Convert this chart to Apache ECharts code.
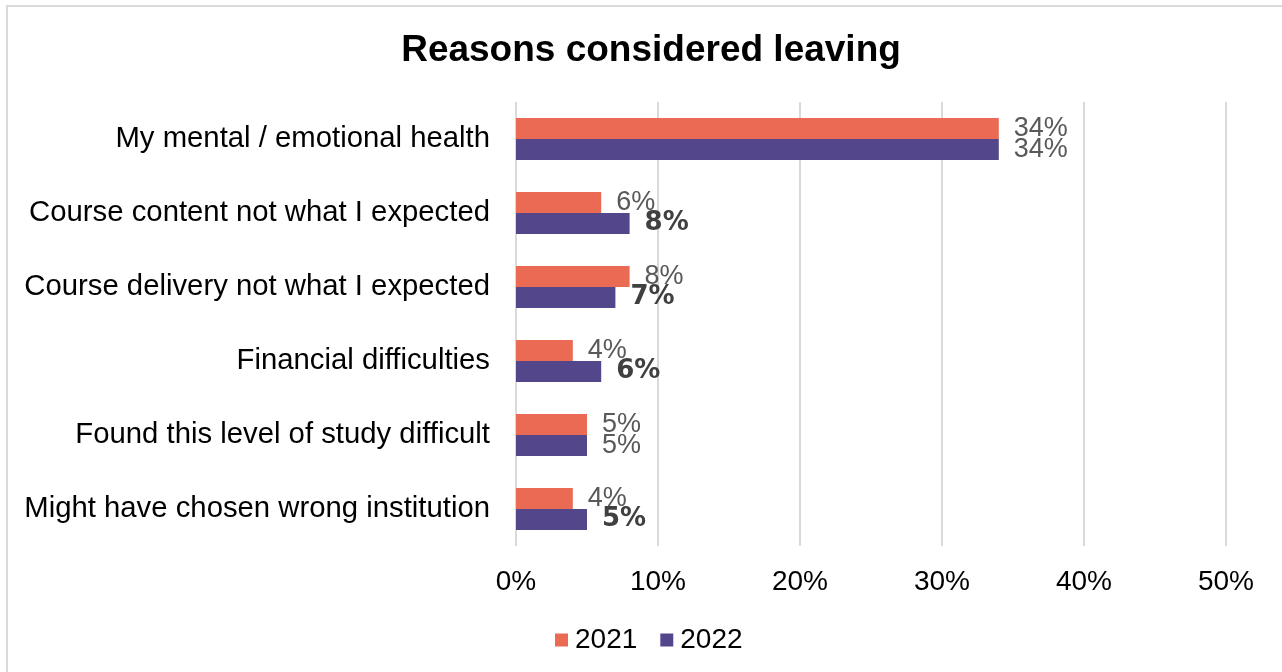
<!DOCTYPE html>
<html>
<head>
<meta charset="utf-8">
<script src="https://cdn.jsdelivr.net/npm/echarts@6/dist/echarts.min.js"></script>
<style>
  html, body { margin: 0; padding: 0; background: #fff; }
  #frame { position: absolute; left: 6px; top: 5px; width: 1290px; height: 700px; border: 2px solid #D9D9D9; box-sizing: border-box; }
  #chart { position: absolute; left: 0; top: 0; width: 1282px; height: 672px; }
</style>
</head>
<body>
<div id="frame"></div>
<div id="chart"></div>
<script>
// Survey: reasons students considered leaving, share of respondents (%)
const categories = [
  'My mental / emotional health',
  'Course content not what I expected',
  'Course delivery not what I expected',
  'Financial difficulties',
  'Found this level of study difficult',
  'Might have chosen wrong institution'
];
const values2021 = [34, 6, 8, 4, 5, 4];
const values2022 = [34, 8, 7, 6, 5, 5];
const seriesNames = ['2021', '2022'];
const xTicks = [0, 10, 20, 30, 40, 50];

const FONT = 'Liberation Sans, Arial, sans-serif';
const ORANGE = '#EA6A53';
const PURPLE = '#54468A';

// Category axis runs top-to-bottom, so reverse for ECharts' bottom-up order
const cats = categories.slice().reverse();
const d2021 = values2021.slice().reverse();
const d2022 = values2022.slice().reverse();

// 2022 labels are set in bold where the value changed from 2021
const d2022Items = d2022.map((v, i) => {
  const changed = v !== d2021[i];
  return {
    value: v,
    label: changed
      ? { fontWeight: 'bold', color: '#404040', fontFamily: 'DejaVu Sans, sans-serif', fontSize: 26 }
      : {}
  };
});

const chart = echarts.init(document.getElementById('chart'), null, { renderer: 'canvas' });
chart.setOption({
  animation: false,
  title: {
    text: 'Reasons considered leaving',
    left: 646, top: 27, textAlign: 'center',
    textStyle: { fontFamily: FONT, fontWeight: 'bold', fontSize: 37, color: '#000' }
  },
  legend: {
    data: seriesNames,
    left: 550, top: 621,
    icon: 'rect', itemWidth: 13, itemHeight: 13, itemGap: 23,
    textStyle: { fontFamily: FONT, fontSize: 28, color: '#000', padding: [0, 0, 0, 2] }
  },
  grid: { left: 516, right: 56, top: 102, bottom: 126, containLabel: false },
  xAxis: {
    type: 'value', min: 0, max: 50, interval: 10,
    axisLine: { show: false }, axisTick: { show: false },
    splitLine: { lineStyle: { color: '#D9D9D9', width: 2 } },
    axisLabel: {
      margin: 22, fontFamily: FONT, fontSize: 28, color: '#000',
      formatter: v => xTicks.includes(v) ? v + '%' : ''
    }
  },
  yAxis: {
    type: 'category', data: cats,
    axisLine: { show: false }, axisTick: { show: false },
    axisLabel: { margin: 26, fontFamily: FONT, fontSize: 29.3, color: '#000' }
  },
  series: [
    {
      name: seriesNames[0], type: 'bar', data: d2021,
      itemStyle: { color: ORANGE },
      barGap: '0%', barCategoryGap: '43%',
      label: { show: true, position: 'right', distance: 15, formatter: '{c}%',
        fontFamily: FONT, fontSize: 27, color: '#595959' },
      z: 2
    },
    {
      name: seriesNames[1], type: 'bar', data: d2022Items,
      itemStyle: { color: PURPLE },
      barGap: '0%', barCategoryGap: '43%',
      label: { show: true, position: 'right', distance: 15, formatter: '{c}%',
        fontFamily: FONT, fontSize: 27, color: '#595959' },
      z: 3
    }
  ]
});
</script>
</body>
</html>
